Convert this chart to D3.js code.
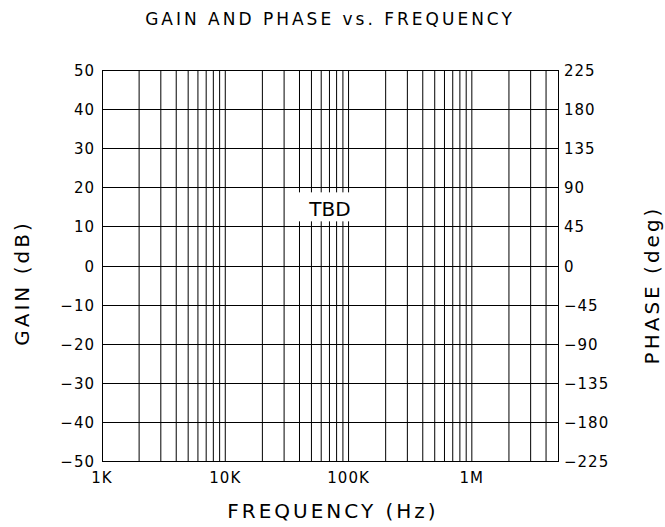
<!DOCTYPE html>
<html>
<head>
<meta charset="utf-8">
<script src="https://cdn.jsdelivr.net/npm/d3@7"></script>
<style>
  html, body { margin: 0; padding: 0; background: #fff; }
  svg { display: block; }
  text { font-family: "DejaVu Sans", sans-serif; fill: #000; }
</style>
</head>
<body>
<script>
// Frequency span of the log axis (Hz) and the decade labels shown under it
const freqDomain = [1e3, 5e6];
const freqTicks = [1e3, 1e4, 1e5, 1e6];
const freqTickLabels = ["1K", "10K", "100K", "1M"];

// Gain axis (left) and phase axis (right)
const gainDomain = [-50, 50];
const gainTicks = [50, 40, 30, 20, 10, 0, -10, -20, -30, -40, -50];
const phaseDomain = [-225, 225];
const phaseTicks = [225, 180, 135, 90, 45, 0, -45, -90, -135, -180, -225];

// Placeholder note in the middle of the grid
const noteText = "TBD";
const noteGain = 15;

const titleText = "GAIN AND PHASE vs. FREQUENCY";
const xTitle = "FREQUENCY (Hz)";
const yLeftTitle = "GAIN (dB)";
const yRightTitle = "PHASE (deg)";

const W = 665, H = 527;
const m = { left: 102, right: 558, top: 70.5, bottom: 461.5 };

const svg = d3.select("body").append("svg")
  .attr("width", W).attr("height", H);
svg.append("rect").attr("width", W).attr("height", H).attr("fill", "#fff");

const x = d3.scaleLog().domain(freqDomain).range([m.left, m.right]);
const yGain = d3.scaleLinear().domain(gainDomain).range([m.bottom, m.top]);
const yPhase = d3.scaleLinear().domain(phaseDomain).range([m.bottom, m.top]);

const fmtSigned = v => v < 0 ? "\u2212" + Math.abs(v) : String(v);

// Vertical grid: 1..9 per decade across the span
const gridFreqs = [];
for (let dec = 1e3; dec < freqDomain[1]; dec *= 10) {
  for (let k = 1; k <= 9; k++) {
    const f = dec * k;
    if (f > freqDomain[0] && f < freqDomain[1]) gridFreqs.push(f);
  }
}

const grid = svg.append("g").attr("stroke", "#000").attr("stroke-width", 1);

grid.selectAll("line.v").data(gridFreqs).join("line")
  .attr("class", "v")
  .attr("x1", d => x(d)).attr("x2", d => x(d))
  .attr("y1", m.top).attr("y2", m.bottom);

grid.selectAll("line.h").data(gainTicks.filter(d => d !== gainDomain[0] && d !== gainDomain[1])).join("line")
  .attr("class", "h")
  .attr("shape-rendering", "crispEdges")
  .attr("x1", m.left).attr("x2", m.right)
  .attr("y1", d => yGain(d)).attr("y2", d => yGain(d));

// Frame
svg.append("rect")
  .attr("x", m.left).attr("y", m.top)
  .attr("width", m.right - m.left).attr("height", m.bottom - m.top)
  .attr("fill", "none").attr("stroke", "#000").attr("stroke-width", 1)
  .attr("shape-rendering", "crispEdges");

// Note with a white backing box
const noteG = svg.append("g")
  .attr("transform", `translate(${(m.left + m.right) / 2},${yGain(noteGain)})`);
noteG.append("rect")
  .attr("x", -36).attr("y", -15).attr("width", 66).attr("height", 29)
  .attr("fill", "#fff");
noteG.append("text")
  .attr("x", 0).attr("y", 9)
  .attr("text-anchor", "middle")
  .attr("font-size", 20)
  .text(noteText);

// Left axis labels (gain)
svg.append("g").selectAll("text").data(gainTicks).join("text")
  .attr("x", m.left - 7)
  .attr("y", d => yGain(d) + 5.5)
  .attr("text-anchor", "end")
  .attr("font-size", 15)
  .attr("letter-spacing", 1)
  .text(fmtSigned);

// Right axis labels (phase)
svg.append("g").selectAll("text").data(phaseTicks).join("text")
  .attr("x", m.right + 6)
  .attr("y", d => yPhase(d) + 5.5)
  .attr("text-anchor", "start")
  .attr("font-size", 15)
  .attr("letter-spacing", 1)
  .text(fmtSigned);

// Bottom axis labels (frequency)
svg.append("g").selectAll("text").data(freqTicks).join("text")
  .attr("x", d => x(d))
  .attr("y", m.bottom + 21)
  .attr("text-anchor", "middle")
  .attr("font-size", 15)
  .attr("letter-spacing", 1)
  .text((d, i) => freqTickLabels[i]);

// Titles
svg.append("text")
  .attr("x", 330).attr("y", 25)
  .attr("text-anchor", "middle")
  .attr("font-size", 17)
  .attr("letter-spacing", 3)
  .text(titleText);

svg.append("text")
  .attr("x", 333).attr("y", 518)
  .attr("text-anchor", "middle")
  .attr("font-size", 20)
  .attr("letter-spacing", 3)
  .text(xTitle);

svg.append("text")
  .attr("transform", "translate(29,283) rotate(-90)")
  .attr("text-anchor", "middle")
  .attr("font-size", 20)
  .attr("letter-spacing", 3)
  .text(yLeftTitle);

svg.append("text")
  .attr("transform", "translate(659,285) rotate(-90)")
  .attr("text-anchor", "middle")
  .attr("font-size", 20)
  .attr("letter-spacing", 3)
  .text(yRightTitle);
</script>
</body>
</html>
